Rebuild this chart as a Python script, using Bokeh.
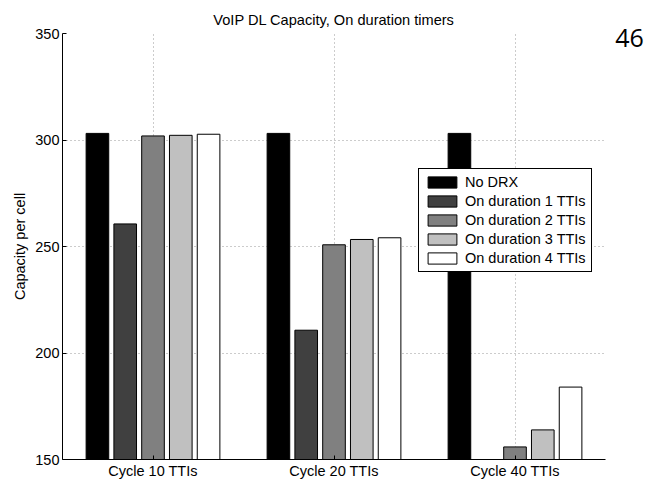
from bokeh.plotting import figure
from bokeh.models import (ColumnDataSource, FactorRange, Range1d, FixedTicker, Legend,
                          LegendItem, Label)
from bokeh.transform import dodge
from bokeh.embed import file_html
from bokeh.resources import INLINE

cycles = ["Cycle 10 TTIs", "Cycle 20 TTIs", "Cycle 40 TTIs"]
no_drx = [303.1, 303.1, 303.1]
on_dur_1 = [260.6, 210.7, 149.0]
on_dur_2 = [301.9, 250.8, 155.9]
on_dur_3 = [302.2, 253.3, 163.9]
on_dur_4 = [302.7, 254.1, 184.0]
series_names = ["No DRX", "On duration 1 TTIs", "On duration 2 TTIs",
                "On duration 3 TTIs", "On duration 4 TTIs"]
series_keys = ["s0", "s1", "s2", "s3", "s4"]
colors = ["#000000", "#404040", "#808080", "#c0c0c0", "#ffffff"]
y_ticks = [150, 200, 250, 300, 350]

FONT = "Liberation Sans"

source = ColumnDataSource(data=dict(cycle=cycles, s0=no_drx, s1=on_dur_1, s2=on_dur_2,
                                    s3=on_dur_3, s4=on_dur_4))

p = figure(width=657, height=481, x_range=FactorRange(factors=cycles, range_padding=0),
           y_range=Range1d(150, 350), output_backend="svg", toolbar_location=None,
           title="VoIP DL Capacity, On duration timers",
           min_border_left=62, min_border_right=52, min_border_top=33, min_border_bottom=20)

p.title.align = "center"
p.title.text_font = FONT
p.title.text_font_size = "14.6px"
p.title.text_font_style = "normal"
p.title.text_color = "#000000"
p.title.standoff = 11

step = 0.1535
items = []
for i, (key, name, col) in enumerate(zip(series_keys, series_names, colors)):
    r = p.vbar(x=dodge("cycle", (i - 2) * step, range=p.x_range), top=key, bottom=0,
               width=0.125, source=source, fill_color=col, line_color="#000000",
               line_width=1)
    items.append(LegendItem(label=name, renderers=[r]))

legend = Legend(items=items, location=(356, 187))
legend.label_text_font = FONT
legend.label_text_font_size = "14.5px"
legend.label_text_color = "#000000"
legend.glyph_width = 36
legend.glyph_height = 14
legend.label_height = 14
legend.spacing = 3
legend.padding = 5
legend.margin = 0
legend.label_standoff = 5
legend.border_line_color = "#000000"
legend.border_line_alpha = 1
legend.border_line_width = 1
legend.background_fill_alpha = 1
p.add_layout(legend, "center")

p.outline_line_color = None
p.background_fill_color = "#ffffff"

for ax in (p.xaxis[0], p.yaxis[0]):
    ax.axis_line_color = "#000000"
    ax.major_tick_in = 4
    ax.major_tick_out = 0
    ax.minor_tick_line_color = None
    ax.major_label_text_font = FONT
    ax.major_label_text_font_size = "14.5px"
    ax.major_label_text_color = "#000000"
    ax.major_tick_line_color = "#000000"

p.yaxis[0].ticker = FixedTicker(ticks=y_ticks)
p.yaxis[0].major_label_standoff = 3
p.yaxis[0].axis_label = "Capacity per cell"
p.yaxis[0].axis_label_text_font = FONT
p.yaxis[0].axis_label_text_font_size = "14.5px"
p.yaxis[0].axis_label_text_font_style = "normal"
p.yaxis[0].axis_label_text_color = "#000000"
p.yaxis[0].axis_label_standoff = 4
p.xaxis[0].major_label_standoff = 3

for g in (p.xgrid[0], p.ygrid[0]):
    g.grid_line_color = "#999999"
    g.grid_line_dash = "1 3"
    g.grid_line_width = 1

p.add_layout(Label(x=24, y=422, x_units="screen", y_units="screen", text="46",
                   text_font="Open Sans", text_font_size="25px", text_align="center",
                   text_baseline="middle", text_color="#000000"), "right")

open("out.html", "w").write(file_html(p, INLINE))
